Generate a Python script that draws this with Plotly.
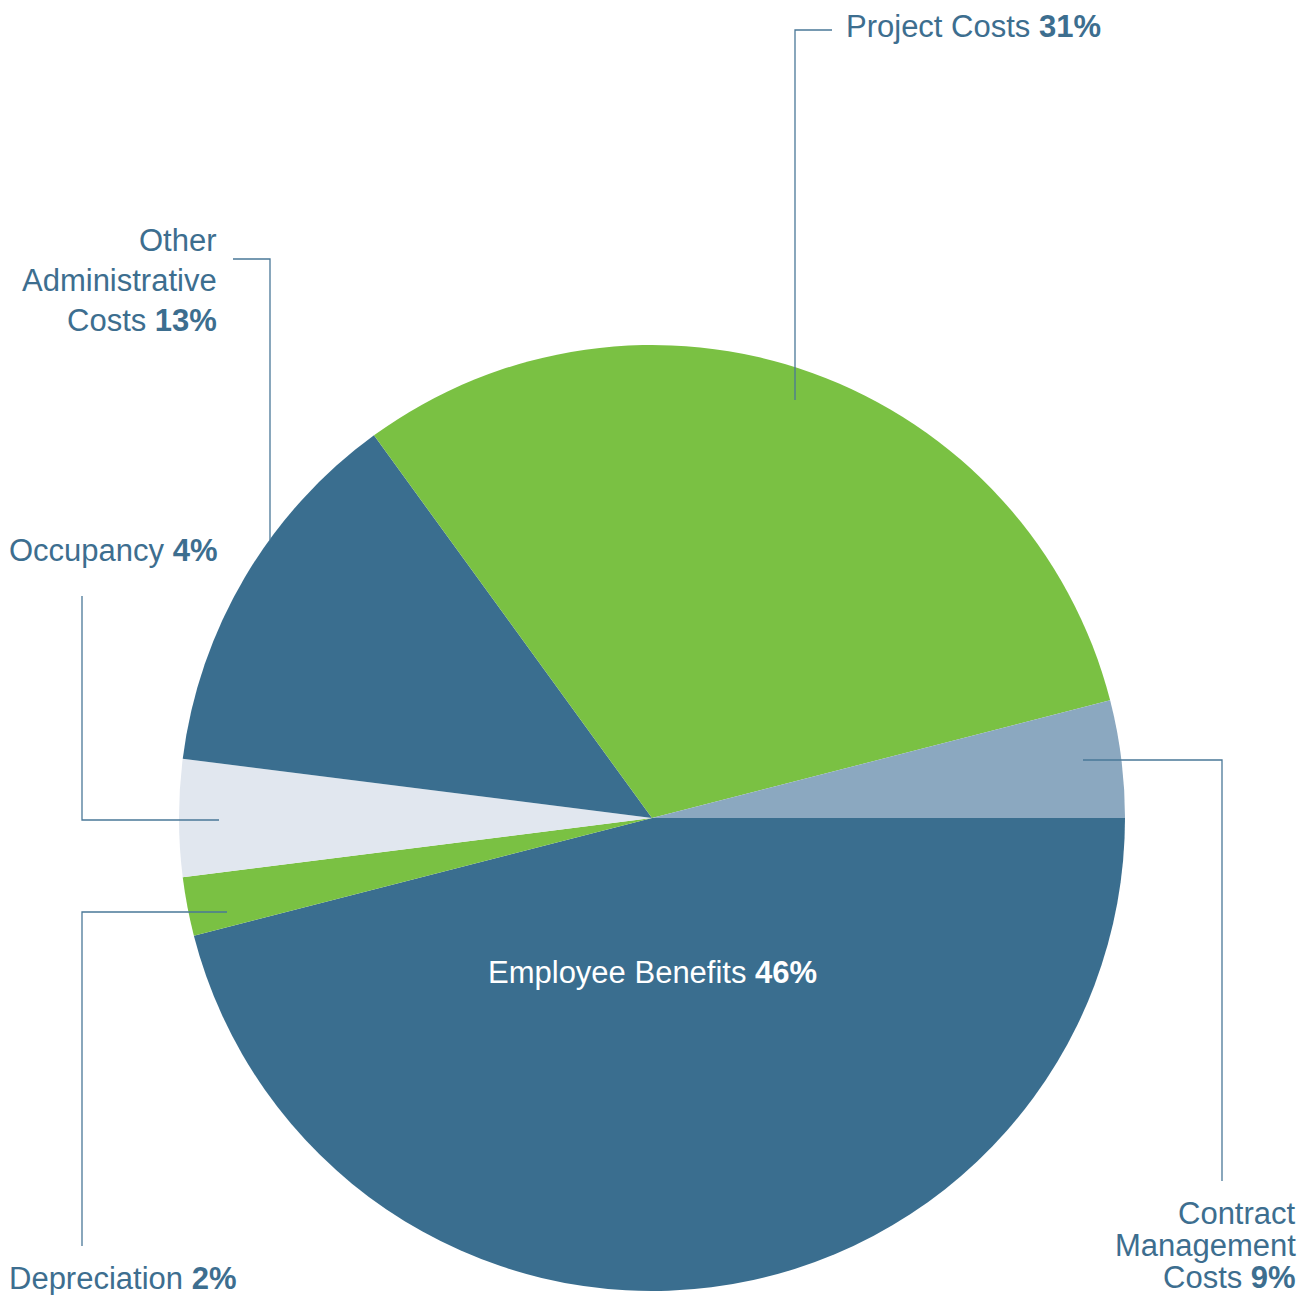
import plotly.graph_objects as go

W, H = 1309, 1295
OFF = 8  # page body margin

categories = ["Employee Benefits", "Depreciation", "Occupancy",
              "Other Administrative Costs", "Project Costs", "Contract Management Costs"]
# slice sizes as drawn in the picture (percent of circle)
slice_values = [46, 2, 4, 13, 31, 4]
# percentages printed on the labels
label_pcts = ["46%", "2%", "4%", "13%", "31%", "9%"]
colors = ["#3a6e8f", "#7ac143", "#e1e7ef", "#3a6e8f", "#7ac143", "#8ba8c0"]

TXT = "#3d6e8f"
FONT = "Liberation Sans, Helvetica, Arial, sans-serif"
FS = 31

cx, cy, r = 652, 818, 473

def px(x):
    return (x - OFF) / W

def py(y):
    return 1 - (y - OFF) / H

fig = go.Figure(go.Pie(
    labels=categories,
    values=slice_values,
    marker=dict(colors=colors, line=dict(width=0)),
    sort=False,
    direction="clockwise",
    rotation=90,
    textinfo="none",
    hoverinfo="skip",
    showlegend=False,
    domain=dict(x=[px(cx - r), px(cx + r)], y=[py(cy + r), py(cy - r)]),
))

annotations = []

def add_line(text, x, y, xanchor, color=TXT):
    annotations.append(dict(
        text=text, x=px(x), y=py(y), xref="paper", yref="paper",
        xanchor=xanchor, yanchor="middle", showarrow=False,
        font=dict(family=FONT, size=FS, color=color),
    ))

# Project Costs
add_line(f"Project Costs <b>{label_pcts[4]}</b>", 844, 27, "left")
# Other Administrative Costs
add_line("Other", 219, 240, "right")
add_line("Administrative", 219, 280, "right")
add_line(f"Costs <b>{label_pcts[3]}</b>", 219, 320, "right")
# Occupancy
add_line(f"Occupancy <b>{label_pcts[2]}</b>", 7, 550, "left")
# Depreciation
add_line(f"Depreciation <b>{label_pcts[1]}</b>", 7, 1278, "left")
# Contract Management Costs
add_line("Contract", 1298, 1213, "right")
add_line("Management", 1298, 1245, "right")
add_line(f"Costs <b>{label_pcts[5]}</b>", 1298, 1277, "right")
# Employee Benefits (inside)
add_line(f"{categories[0]} <b>{label_pcts[0]}</b>", 652, 972, "center", color="white")

LC = "#4a7898"
leaders = [
    [(832, 30), (795, 30), (795, 400)],
    [(233, 259), (270, 259), (270, 540)],
    [(82, 596), (82, 820), (219, 820)],
    [(227, 912), (82, 912), (82, 1246)],
    [(1083, 760), (1222, 760), (1222, 1181)],
]
shapes = []
for pts in leaders:
    path = "M " + " L ".join(f"{px(x)} {py(y)}" for x, y in pts)
    shapes.append(dict(type="path", path=path, xref="paper", yref="paper",
                       line=dict(color=LC, width=1.3), layer="above"))

fig.update_layout(
    width=W, height=H,
    margin=dict(l=0, r=0, t=0, b=0),
    paper_bgcolor="white", plot_bgcolor="white",
    annotations=annotations, shapes=shapes,
)

fig.write_html("out.html")
